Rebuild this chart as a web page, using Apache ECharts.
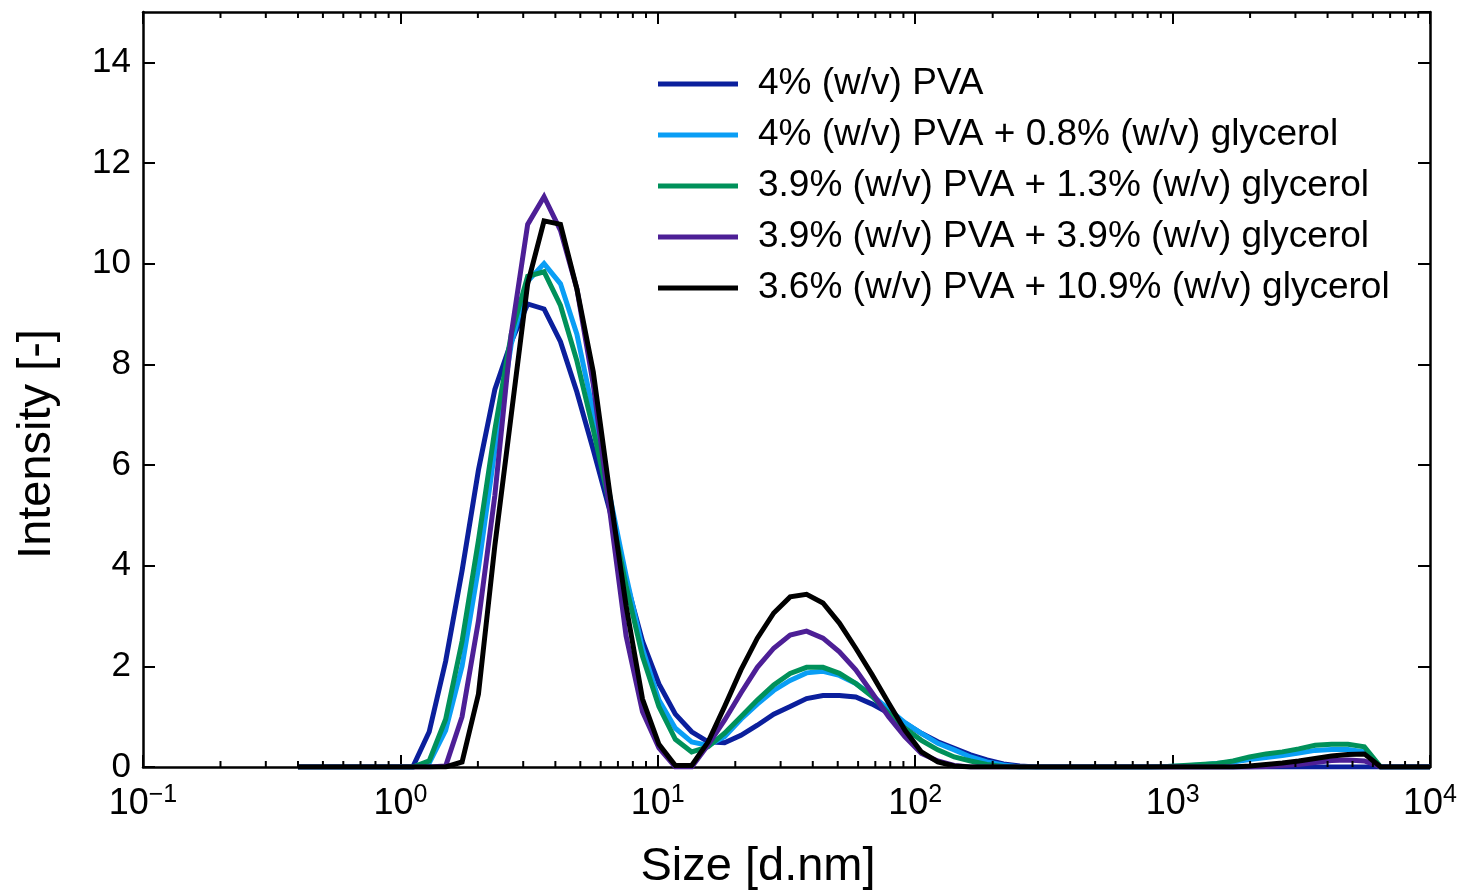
<!DOCTYPE html>
<html><head><meta charset="utf-8">
<script src="https://cdn.jsdelivr.net/npm/echarts@6/dist/echarts.min.js"></script>
<style>html,body{margin:0;padding:0;background:#fff}#c{width:1465px;height:894px}</style>
</head><body><div id="c"></div>
<script>
// Size bins [d.nm]
const sizes = [0.4,0.4632,0.5365,0.6213,0.7195,0.8332,0.9649,1.117,1.294,1.499,1.736,2.01,2.328,2.696,3.122,3.615,4.187,4.849,5.615,6.503,7.531,8.721,10.1,11.7,13.54,15.69,18.17,21.04,24.36,28.21,32.67,37.84,43.82,50.75,58.77,68.06,78.82,91.28,105.7,122.4,141.8,164.2,190.1,220.2,255,295.3,342,396.1,458.7,531.2,615.1,712.4,825,955.4,1106,1281,1484,1718,1990,2305,2669,3091,3580,4145,4801,5560,6439,7456,8635,10000];

const pva4 = [0,0,0,0,0,0,0,0,0.7,2.1,3.9,5.9,7.5,8.45,9.2,9.1,8.45,7.45,6.3,5.1,3.7,2.5,1.65,1.05,0.70,0.50,0.48,0.63,0.83,1.05,1.2,1.36,1.42,1.42,1.39,1.25,1.07,0.87,0.67,0.50,0.37,0.24,0.14,0.06,0.02,0,0,0,0,0,0,0,0,0,0,0,0,0,0,0,0,0,0,0,0,0,0,0,0,0];
const gly08 = [0,0,0,0,0,0,0,0,0.08,0.73,2.0,3.95,6.3,8.4,9.65,10.0,9.6,8.6,7.05,5.4,3.8,2.35,1.33,0.77,0.50,0.43,0.6,0.95,1.25,1.52,1.72,1.87,1.9,1.82,1.66,1.42,1.15,0.88,0.67,0.47,0.34,0.2,0.1,0.04,0,0,0,0,0,0,0,0,0,0.01,0.02,0.04,0.07,0.1,0.15,0.19,0.23,0.28,0.33,0.35,0.35,0.3,0,0,0,0];
const gly13 = [0,0,0,0,0,0,0,0,0.12,0.95,2.5,4.5,6.7,8.6,9.75,9.84,9.17,8.07,6.7,5.2,3.6,2.2,1.2,0.55,0.30,0.40,0.67,1.0,1.33,1.63,1.86,1.98,1.98,1.86,1.66,1.40,1.07,0.77,0.53,0.34,0.2,0.12,0.05,0.01,0,0,0,0,0,0,0,0,0,0.01,0.03,0.05,0.07,0.12,0.2,0.26,0.3,0.36,0.43,0.45,0.45,0.4,0,0,0,0];
const gly39 = [0,0,0,0,0,0,0,0,0,0.02,1.0,2.9,5.4,8.6,10.78,11.33,10.66,9.5,7.6,5.1,2.6,1.1,0.38,0,0,0.44,0.93,1.47,1.98,2.36,2.62,2.70,2.56,2.29,1.93,1.47,1.0,0.60,0.27,0.12,0.03,0,0,0,0,0,0,0,0,0,0,0,0,0,0,0,0,0,0,0.01,0.03,0.05,0.09,0.13,0.14,0.12,0,0,0,0];
const gly109 = [0,0,0,0,0,0,0,0,0,0,0.1,1.45,4.4,7.0,9.6,10.85,10.78,9.5,7.85,5.45,3.2,1.35,0.45,0.03,0.03,0.5,1.2,1.93,2.56,3.06,3.38,3.43,3.26,2.86,2.36,1.83,1.27,0.73,0.30,0.1,0.02,0,0,0,0,0,0,0,0,0,0,0,0,0,0,0,0,0,0.02,0.05,0.08,0.12,0.17,0.22,0.25,0.26,0,0,0,0];

const seriesNames = ['4% (w/v) PVA','4% (w/v) PVA + 0.8% (w/v) glycerol','3.9% (w/v) PVA + 1.3% (w/v) glycerol','3.9% (w/v) PVA + 3.9% (w/v) glycerol','3.6% (w/v) PVA + 10.9% (w/v) glycerol'];
const seriesValues = [pva4, gly08, gly13, gly39, gly109];
const seriesColors = ['#0b1f9c','#0a9ef5','#00915a','#4d1f96','#000000'];

const xTickExponents = [-1,0,1,2,3,4];
const yTickLabels = [0,2,4,6,8,10,12,14];
const minorTicks = [0.2,0.3,0.4,0.5,0.6,0.7,0.8,0.9,2,3,4,5,6,7,8,9,20,30,40,50,60,70,80,90,200,300,400,500,600,700,800,900,2000,3000,4000,5000,6000,7000,8000,9000];

const FONT = 'Liberation Sans';
const LW = 5;
const chart = echarts.init(document.getElementById('c'));

const axisCommonX = {
  type: 'log', logBase: 10, min: 0.1, max: 10000, interval: 1,
  axisLine: {show: true, onZero: false, lineStyle: {color: '#000', width: 2.5}},
  axisTick: {show: true, inside: true, length: 12, lineStyle: {color: '#000', width: 2}},
  splitLine: {show: false}
};
const axisCommonY = {
  type: 'value', min: 0, max: 15, interval: 2,
  axisLine: {show: true, lineStyle: {color: '#000', width: 2.5}},
  axisTick: {show: true, inside: true, length: 12, lineStyle: {color: '#000', width: 2}},
  splitLine: {show: false}
};

const lineSeries = seriesNames.map((name, k) => ({
  name: name, type: 'line', xAxisIndex: 0, yAxisIndex: 0,
  data: sizes.map((s, i) => [s, seriesValues[k][i]]),
  symbol: 'none', showSymbol: false, smooth: false,
  lineStyle: {color: seriesColors[k], width: LW, join: 'miter', cap: 'butt'},
  itemStyle: {color: seriesColors[k]},
  z: 3 + k
}));

chart.setOption({
  animation: false,
  backgroundColor: '#fff',
  grid: {left: 143, right: 35, top: 12, bottom: 127, containLabel: false},
  xAxis: [
    Object.assign({}, axisCommonX, {
      position: 'bottom',
      axisLabel: {
        show: true, margin: 16, color: '#000',
        formatter: function (v) {
          const e = Math.round(Math.log10(v));
          if (xTickExponents.indexOf(e) < 0) return '';
          return '{b|10}{s|' + String(e).replace('-', '\u2212') + '}';
        },
        rich: {
          b: {fontFamily: FONT, fontSize: 36, lineHeight: 42, color: '#000'},
          s: {fontFamily: FONT, fontSize: 25, lineHeight: 28, verticalAlign: 'top', color: '#000'}
        }
      }
    }),
    Object.assign({}, axisCommonX, {position: 'top', axisLabel: {show: false}})
  ],
  yAxis: [
    Object.assign({}, axisCommonY, {
      position: 'left',
      axisLabel: {
        show: true, margin: 12, color: '#000', fontFamily: FONT, fontSize: 35,
        showMaxLabel: false,
        formatter: function (v) { return yTickLabels.indexOf(v) >= 0 ? String(v) : ''; }
      }
    }),
    Object.assign({}, axisCommonY, {position: 'right', axisLabel: {show: false}})
  ],
  legend: {
    data: seriesNames.map((n, k) => ({name: n, icon: 'rect', itemStyle: {color: seriesColors[k]}})),
    orient: 'vertical', left: 658, top: 64, padding: 0,
    itemWidth: 80, itemHeight: 5, itemGap: 11,
    textStyle: {fontFamily: FONT, fontSize: 37, lineHeight: 40, color: '#000', padding: [0, 0, 0, 15]},
    selectedMode: false
  },
  graphic: [
    {type: 'text', x: 37, y: 444, rotation: Math.PI / 2,
     style: {text: 'Intensity [-]', fontFamily: FONT, fontSize: 47, fill: '#000', align: 'center', verticalAlign: 'middle'}},
    {type: 'text', x: 758, y: 867,
     style: {text: 'Size [d.nm]', fontFamily: FONT, fontSize: 47, fill: '#000', align: 'center', verticalAlign: 'middle'}}
  ],
  series: lineSeries.concat([{
    type: 'custom', xAxisIndex: 0, yAxisIndex: 0, silent: true, clip: false,
    data: minorTicks.map(v => [v, 0]),
    encode: {x: 0, y: 1},
    renderItem: function (params, api) {
      const v = api.value(0);
      const b = api.coord([v, 0]);
      const t = api.coord([v, 15]);
      return {type: 'group', children: [
        {type: 'line', shape: {x1: b[0], y1: b[1], x2: b[0], y2: b[1] - 6}, style: {stroke: '#000', lineWidth: 2}},
        {type: 'line', shape: {x1: t[0], y1: t[1], x2: t[0], y2: t[1] + 6}, style: {stroke: '#000', lineWidth: 2}}
      ]};
    },
    z: 10
  }])
});
</script></body></html>
